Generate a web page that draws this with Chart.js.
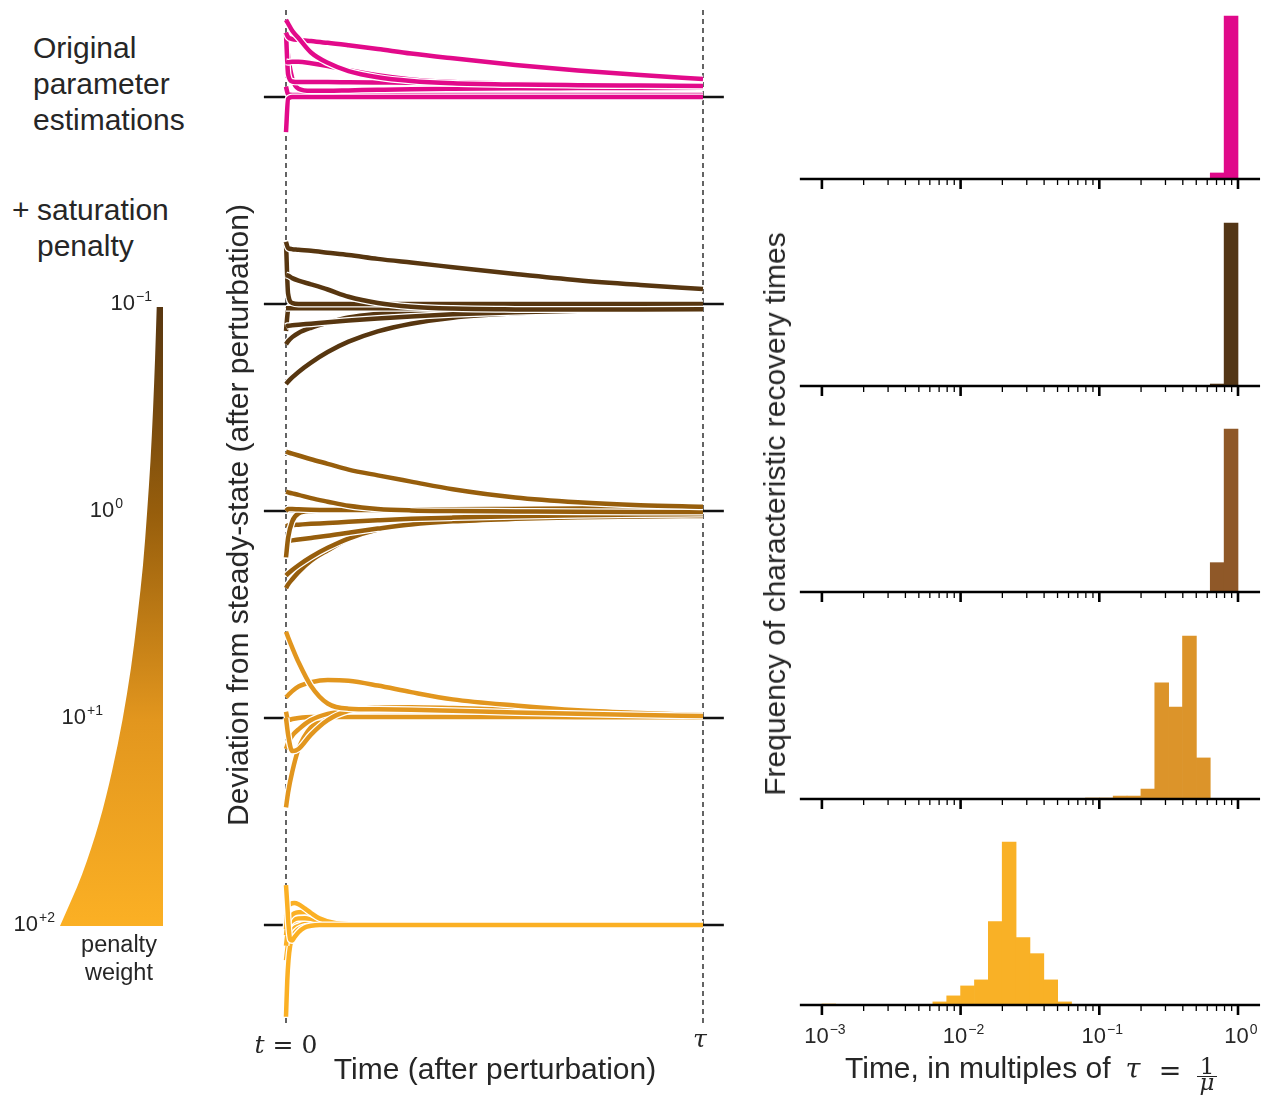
<!DOCTYPE html>
<html>
<head>
<meta charset="utf-8">
<script src="https://cdn.jsdelivr.net/npm/chart.js@4.4.1/dist/chart.umd.min.js"></script>
<style>
  body { margin: 0; background: #fff; }
  #fig { position: relative; width: 1267px; height: 1096px; overflow: hidden;
         font-family: "Liberation Sans", Arial, sans-serif; color: #262626; }
  .box { position: absolute; }
  .txt { position: absolute; white-space: nowrap; }
  .math { font-family: "DejaVu Serif", serif; }
  .sup { position: relative; font-size: 14px; top: -9px; margin-left: 1px; }
</style>
</head>
<body>
<div id="fig">
  <div class="box" id="wedgeBox" style="left:0;top:290px;width:200px;height:650px"><canvas id="wedge"></canvas></div>
  <div class="box" id="trajBox" style="left:250px;top:0;width:480px;height:1030px"><canvas id="traj"></canvas></div>
</div>
<script>
// ---------- DONNÉES ----------

const tGrid = [0, 0.005, 0.015, 0.03, 0.06, 0.1, 0.15, 0.22, 0.3, 0.4, 0.55, 0.7, 0.85, 1.0];
const tGridFast = [0, 0.003, 0.006, 0.01, 0.015, 0.02, 0.03, 0.045, 0.06, 0.08, 0.12, 0.2, 0.4, 1.0];

// écart à l'état stationnaire, une ligne par trajectoire
const originalCurves = [
  [0.373, 0.355, 0.32, 0.285, 0.215, 0.165, 0.125, 0.095, 0.077, 0.066, 0.06, 0.057, 0.055, 0.053],
  [0.31, 0.29, 0.28, 0.276, 0.27, 0.262, 0.25, 0.232, 0.21, 0.187, 0.155, 0.128, 0.106, 0.087],
  [0.17, 0.168, 0.17, 0.17, 0.163, 0.15, 0.13, 0.105, 0.085, 0.072, 0.064, 0.06, 0.057, 0.055],
  [0.31, 0.11, 0.075, 0.072, 0.072, 0.072, 0.071, 0.07, 0.069, 0.067, 0.064, 0.06, 0.056, 0.052],
  [0.30, 0.2, 0.09, 0.04, 0.03, 0.03, 0.032, 0.035, 0.038, 0.04, 0.042, 0.043, 0.044, 0.045],
  [-0.17, -0.01, 0, 0, 0, 0, 0, 0, 0, 0, 0, 0, 0, 0],
  [0.05, 0.012, 0.01, 0.01, 0.01, 0.01, 0.01, 0.01, 0.01, 0.01, 0.01, 0.01, 0.01, 0.01],
];
const penalty01Curves = [
  [0.30, 0.27, 0.265, 0.262, 0.257, 0.248, 0.237, 0.218, 0.2, 0.178, 0.145, 0.115, 0.092, 0.072],
  [0.14, 0.137, 0.125, 0.113, 0.095, 0.07, 0.035, 0.005, -0.013, -0.022, -0.026, -0.027, -0.026, -0.025],
  [0.30, 0.05, 0.005, 0, 0, 0, 0, 0, 0, 0, 0, 0, 0, 0],
  [-0.02, -0.02, -0.02, -0.02, -0.02, -0.02, -0.02, -0.02, -0.02, -0.02, -0.021, -0.021, -0.022, -0.022],
  [-0.11, -0.105, -0.103, -0.1, -0.095, -0.088, -0.08, -0.07, -0.06, -0.05, -0.04, -0.033, -0.028, -0.025],
  [-0.195, -0.18, -0.16, -0.14, -0.115, -0.09, -0.065, -0.047, -0.035, -0.027, -0.022, -0.02, -0.02, -0.02],
  [-0.386, -0.375, -0.355, -0.328, -0.283, -0.232, -0.182, -0.132, -0.095, -0.066, -0.045, -0.034, -0.028, -0.025],
  [-0.13, -0.03, -0.005, 0, 0, 0, 0, 0, 0, 0, 0, 0, 0, 0],
];
const penalty1Curves = [
  [0.287, 0.283, 0.277, 0.268, 0.25, 0.228, 0.2, 0.172, 0.142, 0.105, 0.065, 0.042, 0.028, 0.02],
  [0.093, 0.09, 0.085, 0.078, 0.062, 0.045, 0.025, 0.01, 0.003, 0, -0.002, -0.004, -0.005, -0.005],
  [0.0, 0.01, 0.01, 0.008, 0.006, 0.005, 0.005, 0.005, 0.006, 0.008, 0.01, 0.012, 0.013, 0.014],
  [-0.224, -0.13, -0.05, -0.012, 0, 0.002, 0.003, 0.003, 0.003, 0.003, 0.002, 0.001, 0, 0],
  [-0.075, -0.07, -0.068, -0.066, -0.062, -0.058, -0.052, -0.045, -0.038, -0.032, -0.025, -0.02, -0.017, -0.015],
  [-0.15, -0.145, -0.142, -0.138, -0.13, -0.12, -0.105, -0.085, -0.065, -0.05, -0.038, -0.03, -0.026, -0.024],
  [-0.312, -0.302, -0.285, -0.262, -0.222, -0.178, -0.133, -0.09, -0.062, -0.047, -0.037, -0.03, -0.026, -0.023],
  [-0.373, -0.355, -0.33, -0.295, -0.24, -0.19, -0.135, -0.09, -0.062, -0.048, -0.038, -0.031, -0.027, -0.024],
];
const penalty10Curves = [
  [0.417, 0.39, 0.34, 0.27, 0.155, 0.07, 0.045, 0.042, 0.04, 0.035, 0.027, 0.02, 0.014, 0.01],
  [0.1, 0.11, 0.13, 0.152, 0.173, 0.184, 0.18, 0.157, 0.125, 0.09, 0.06, 0.037, 0.024, 0.014],
  [0.0, -0.08, -0.16, -0.15, -0.08, -0.01, 0.035, 0.05, 0.052, 0.048, 0.04, 0.03, 0.02, 0.012],
  [-0.15, -0.12, -0.085, -0.055, -0.01, 0.02, 0.035, 0.042, 0.044, 0.042, 0.035, 0.027, 0.018, 0.011],
  [0.03, -0.01, -0.005, 0.0, 0.005, 0.005, 0.005, 0.005, 0.005, 0.005, 0.005, 0.004, 0.004, 0.003],
  [-0.432, -0.36, -0.26, -0.15, -0.045, -0.005, 0.008, 0.01, 0.01, 0.01, 0.009, 0.008, 0.006, 0.005],
];
const penalty100Curves = [
  [0.193, 0.1, 0.0, -0.07, -0.075, -0.06, -0.035, -0.012, -0.004, 0, 0, 0, 0, 0],
  [-0.02, 0.06, 0.09, 0.1, 0.105, 0.106, 0.1, 0.08, 0.058, 0.032, 0.008, 0.001, 0, 0],
  [-0.05, 0.0, 0.025, 0.04, 0.05, 0.057, 0.062, 0.063, 0.055, 0.035, 0.01, 0.001, 0, 0],
  [-0.1, -0.05, -0.01, 0.01, 0.02, 0.027, 0.032, 0.033, 0.03, 0.02, 0.006, 0, 0, 0],
  [-0.443, -0.27, -0.17, -0.1, -0.06, -0.04, -0.02, -0.008, -0.003, 0, 0, 0, 0, 0],
  [-0.17, -0.12, -0.08, -0.05, -0.03, -0.015, -0.005, 0.005, 0.008, 0.006, 0.002, 0, 0, 0],
  [0.05, 0.02, 0.01, 0.005, 0.003, 0.002, 0.001, 0, 0, 0, 0, 0, 0, 0],
];

// barre de couleur : largeur relative du coin selon l'exposant du poids de pénalité
const penaltyExponent = [-1, -0.75, -0.5, -0.25, 0, 0.25, 0.5, 0.75, 1, 1.25, 1.5, 1.75, 2];
const wedgeWidth = [0.061, 0.077, 0.097, 0.122, 0.155, 0.194, 0.248, 0.311, 0.393, 0.495, 0.621, 0.786, 1.0];
const penaltyTickExp = [-1, 0, 1, 2];
const penaltyTickText = ['\u22121', '0', '+1', '+2'];

// histogrammes : bord gauche des classes (log10 du temps) et fréquence relative
const histBinStart = [
  [-0.2, -0.1],
  [-0.2, -0.1],
  [-0.2, -0.1],
  [-1.1, -1.0, -0.9, -0.8, -0.7, -0.6, -0.5, -0.4, -0.3],
  [-3.0, -2.2, -2.1, -2.0, -1.9, -1.8, -1.7, -1.6, -1.5, -1.4, -1.3],
];
const histFreq = [
  [0.037, 1.0],
  [0.012, 1.0],
  [0.18, 1.0],
  [0.006, 0.006, 0.018, 0.018, 0.061, 0.712, 0.564, 1.0, 0.252],
  [0.006, 0.019, 0.056, 0.117, 0.154, 0.512, 1.0, 0.414, 0.315, 0.154, 0.019],
];
const histTickExp = [-3, -2, -1, 0];
const histTickText = ['\u22123', '\u22122', '\u22121', '0'];

// ---------- STYLE / MISE EN PAGE ----------
const lineColors = ['#e20a8a', '#573610', '#975e0c', '#e2961e', '#fbb024'];
const histColors = ['#e0098a', '#533616', '#8f5828', '#dc942a', '#f9b126'];
const groupOffset = [4, 3, 2, 1, 0];

const T0_PX = 286, TAU_PX = 703;      // t = 0 et t = tau
const BASE_PX = 925, UNIT_PX = 207;   // ligne de base du dernier groupe, écart entre groupes
const DEC0_PX = 1238, DEC_PX = 138.7; // 10^0 et largeur d'une décade
const HIST_BASE = [178.5, 385.5, 592, 798.5, 1005];

Chart.defaults.font.family = '"Liberation Sans", Arial, sans-serif';
Chart.defaults.animation = false;

const fig = document.getElementById('fig');

// ---------- TRAJECTOIRES ----------
const trajGroups = [
  { times: tGrid, curves: originalCurves },
  { times: tGrid, curves: penalty01Curves },
  { times: tGrid, curves: penalty1Curves },
  { times: tGrid, curves: penalty10Curves },
  { times: tGridFast, curves: penalty100Curves },
];

const trajDatasets = [];
trajGroups.forEach((g, gi) => {
  g.curves.forEach((c) => {
    const pts = c.map((v, k) => ({ x: g.times[k], y: v + groupOffset[gi] }));
    // trait coloré puis liseré blanc en dessous (dataset 0 est dessiné en dernier)
    trajDatasets.push({ data: pts, borderColor: lineColors[gi], borderWidth: 4.5 });
    trajDatasets.push({ data: pts, borderColor: '#ffffff', borderWidth: 7 });
  });
});

const trajGuides = {
  id: 'trajGuides',
  beforeDatasetsDraw(chart) {
    const { ctx, scales: { x, y } } = chart;
    ctx.save();
    ctx.strokeStyle = '#111';
    ctx.lineWidth = 2.6;
    groupOffset.forEach((o) => {
      const py = y.getPixelForValue(o);
      ctx.beginPath();
      ctx.moveTo(x.getPixelForValue(-0.053), py);
      ctx.lineTo(x.getPixelForValue(1.05), py);
      ctx.stroke();
    });
    ctx.setLineDash([5, 4]);
    ctx.lineWidth = 1.3;
    [0, 1].forEach((t) => {
      const px = x.getPixelForValue(t);
      ctx.beginPath();
      ctx.moveTo(px, y.getPixelForValue(4.42));
      ctx.lineTo(px, y.getPixelForValue(-0.485));
      ctx.stroke();
    });
    ctx.restore();
  },
};

new Chart(document.getElementById('traj'), {
  type: 'line',
  data: { datasets: trajDatasets },
  options: {
    responsive: true,
    maintainAspectRatio: false,
    events: [],
    layout: { padding: 0 },
    elements: {
      point: { radius: 0 },
      line: { cubicInterpolationMode: 'monotone', borderCapStyle: 'butt', fill: false },
    },
    scales: {
      x: { type: 'linear', display: false,
           min: (250 - T0_PX) / (TAU_PX - T0_PX), max: (730 - T0_PX) / (TAU_PX - T0_PX) },
      y: { type: 'linear', display: false,
           min: (BASE_PX - 1030) / UNIT_PX, max: BASE_PX / UNIT_PX },
    },
    plugins: { legend: { display: false }, tooltip: { enabled: false } },
  },
  plugins: [trajGuides],
});

// ---------- COIN DE COULEUR (poids de pénalité) ----------
const wedgeStops = [lineColors[1], lineColors[2], lineColors[3], lineColors[4]];

new Chart(document.getElementById('wedge'), {
  type: 'line',
  data: {
    datasets: [{
      data: penaltyExponent.map((e, i) => ({ x: wedgeWidth[i], y: e })),
      fill: 'origin',
      borderWidth: 0,
      borderColor: 'rgba(0,0,0,0)',
      pointRadius: 0,
      cubicInterpolationMode: 'monotone',
      backgroundColor(c) {
        const chart = c.chart;
        if (!chart.chartArea) return wedgeStops[0];
        const ys = chart.scales.y;
        const g = chart.ctx.createLinearGradient(0, ys.getPixelForValue(-1), 0, ys.getPixelForValue(2));
        wedgeStops.forEach((col, i) => g.addColorStop(i / (wedgeStops.length - 1), col));
        return g;
      },
    }],
  },
  options: {
    indexAxis: 'y',
    responsive: true,
    maintainAspectRatio: false,
    events: [],
    layout: { padding: 0 },
    scales: {
      x: { type: 'linear', display: false, reverse: true, min: -37 / 103, max: 163 / 103 },
      y: { type: 'linear', display: false, reverse: true,
           min: -1 - 17 / 206.3, max: 2 + 14 / 206.3 },
    },
    plugins: { legend: { display: false }, tooltip: { enabled: false } },
  },
});

// ---------- HISTOGRAMMES ----------
const histAxis = {
  id: 'histAxis',
  afterDatasetsDraw(chart) {
    const { ctx, scales: { x, y } } = chart;
    const y0 = y.getPixelForValue(0);
    ctx.save();
    ctx.strokeStyle = '#000';
    ctx.lineWidth = 2.6;
    ctx.beginPath();
    ctx.moveTo(x.getPixelForValue(-3.159), y0);
    ctx.lineTo(x.getPixelForValue(0.159), y0);
    ctx.stroke();
    histTickExp.forEach((d) => {
      const px = x.getPixelForValue(d);
      ctx.lineWidth = 2.6;
      ctx.beginPath();
      ctx.moveTo(px, y0);
      ctx.lineTo(px, y0 + 10);
      ctx.stroke();
      if (d < 0) {
        ctx.lineWidth = 1.3;
        for (let k = 2; k <= 9; k++) {
          const pm = x.getPixelForValue(d + Math.log10(k));
          ctx.beginPath();
          ctx.moveTo(pm, y0);
          ctx.lineTo(pm, y0 + 6);
          ctx.stroke();
        }
      }
    });
    ctx.restore();
  },
};

histBinStart.forEach((bins, hi) => {
  const top = Math.round(HIST_BASE[hi]) - 200;
  const box = document.createElement('div');
  box.className = 'box';
  box.style.cssText = `left:790px;top:${top}px;width:477px;height:216px`;
  const cv = document.createElement('canvas');
  box.appendChild(cv);
  fig.appendChild(box);

  new Chart(cv, {
    type: 'bar',
    data: {
      datasets: [{
        data: bins.map((b, i) => ({ x: b + 0.05, y: histFreq[hi][i] })),
        backgroundColor: histColors[hi],
        borderWidth: 0,
        barPercentage: 1,
        categoryPercentage: 1,
      }],
    },
    options: {
      responsive: true,
      maintainAspectRatio: false,
      events: [],
      layout: { padding: 0 },
      scales: {
        x: { type: 'linear', display: false, offset: false, grid: { offset: false },
             ticks: { stepSize: 1 },
             min: (790 - DEC0_PX) / DEC_PX, max: (1267 - DEC0_PX) / DEC_PX },
        y: { type: 'linear', display: false, min: -16 / 163, max: 200 / 163 },
      },
      plugins: { legend: { display: false }, tooltip: { enabled: false } },
    },
    plugins: [histAxis],
  });
});

// ---------- TEXTES ----------
function addText(html, x, y, o = {}) {
  const d = document.createElement('div');
  d.className = 'txt' + (o.math ? ' math' : '');
  d.innerHTML = html;
  d.style.left = x + 'px';
  d.style.top = y + 'px';
  d.style.fontSize = (o.size || 30) + 'px';
  d.style.lineHeight = (o.lh || Math.round((o.size || 30) * 1.25)) + 'px';
  if (o.align) d.style.textAlign = o.align;
  const tx = o.anchor === 'left' ? '0' : o.anchor === 'right' ? '-100%' : '-50%';
  d.style.transform = `translate(${tx},-50%)` + (o.rotate ? ' rotate(-90deg)' : '');
  fig.appendChild(d);
}

addText('Original<br>parameter<br>estimations', 33, 84, { lh: 36, anchor: 'left' });
addText('+', 12, 210, { anchor: 'left' });
addText('saturation<br>penalty', 37, 228, { lh: 36, anchor: 'left' });

const penaltyLabelRight = [152, 123, 103, 55];
penaltyTickExp.forEach((e, i) => {
  addText(`10<span class="sup">${penaltyTickText[i]}</span>`, penaltyLabelRight[i],
          BASE_PX - (2 - e) * UNIT_PX, { size: 22, anchor: 'right' });
});
addText('penalty<br>weight', 119, 958, { size: 23.5, lh: 28, align: 'center' });

addText('Deviation from steady-state (after perturbation)', 238, 515, { rotate: true });
addText('<i>t</i> = 0', T0_PX, 1044, { math: true, size: 25 });
addText('<i>\u03c4</i>', TAU_PX - 3, 1038, { math: true, size: 25 });
addText('Time (after perturbation)', 495, 1069);

addText('Frequency of characteristic recovery times', 775, 514, { rotate: true });
histTickExp.forEach((d, i) => {
  addText(`10<span class="sup">${histTickText[i]}</span>`, DEC0_PX + d * DEC_PX + 3, 1037, { size: 22 });
});
addText('Time, in multiples of', 845, 1068, { anchor: 'left' });
addText('<i>\u03c4</i>', 1133, 1069, { math: true, size: 27 });
addText('=', 1170, 1071, { math: true, size: 27 });
addText('1', 1207, 1066, { math: true, size: 23 });
addText('<i>\u03bc</i>', 1207, 1082, { math: true, size: 23 });
const bar = document.createElement('div');
bar.style.cssText = 'position:absolute;left:1197px;top:1076px;width:20px;height:1.4px;background:#262626';
fig.appendChild(bar);
</script>
</body>
</html>
